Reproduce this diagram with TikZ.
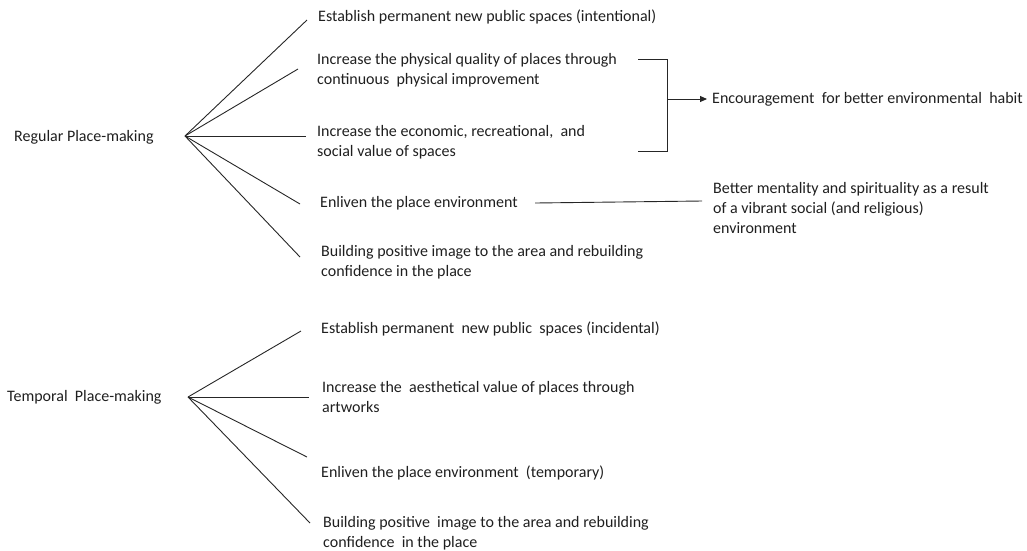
\documentclass[tikz,border=0pt]{standalone}
\usepackage{fontspec}
\setmainfont{Carlito}
\usetikzlibrary{arrows.meta}
\begin{document}
\begin{tikzpicture}[x=1pt,y=-1pt,
  txt/.style={anchor=west,inner sep=0pt,align=left,text=black!88,
    font=\fontsize{16}{20}\selectfont},
  branch/.style={draw=black!85,line width=0.9pt},
  bracketline/.style={draw=black!85,line width=0.9pt}]
\useasboundingbox (0,0) rectangle (1027,550);

% ---- regular place-making ----
\node[txt] (reg) at (14,137) {Regular Place-making};
\coordinate (rhub) at (185,136);

\node[txt] (r1) at (318,17) {Establish permanent new public spaces (intentional)};
\node[txt] (r2) at (317,70) {Increase the physical quality of places through\\continuous\ \ physical improvement};
\node[txt] (r3) at (317,142) {Increase the economic, recreational,\ \ and\\social value of spaces};
\node[txt] (r4) at (320,203) {Enliven the place environment};
\node[txt] (r5) at (321,262) {Building positive image to the area and rebuilding\\confidence in the place};

\coordinate (r1e) at (307,20);
\coordinate (r2e) at (298,69);
\coordinate (r3e) at (306,136);
\coordinate (r4e) at (300,204);
\coordinate (r5e) at (300,257);
\foreach \e in {r1e,r2e,r3e,r4e,r5e} \draw[branch] (rhub) -- (\e);

% bracket joining the two middle outcomes
\coordinate (bt) at (638,59);
\coordinate (btc) at (667,59);
\coordinate (bbc) at (667,151);
\coordinate (bb) at (638,151);
\coordinate (bm) at (667,99);
\coordinate (tip) at (707,99);
\draw[bracketline] (bt) -- (btc) -- (bbc) -- (bb);
\node[txt] (hab) at (712,99) {Encouragement\ \ for better environmental\ \ habit};
\draw[branch,-{Triangle[length=7pt,width=6pt]}] (bm) -- (tip);

% enliven -> mentality
\node[txt] (ment) at (713,208) {Better mentality and spirituality as a result\\of a vibrant social (and religious)\\environment};
\coordinate (ls) at (535,203);
\coordinate (le) at (702,201);
\draw[branch] (ls) -- (le);

% ---- temporal place-making ----
\node[txt] (tmp) at (7,397) {Temporal\ \ Place-making};
\coordinate (thub) at (188,397);

\node[txt] (t1) at (321,329) {Establish permanent\ \ new public\ \ spaces (incidental)};
\node[txt] (t2) at (322,397) {Increase the\ \ aesthetical value of places through\\artworks};
\node[txt] (t3) at (321,473) {Enliven the place environment\ \ (temporary)};
\node[txt] (t4) at (323,533) {Building positive\ \ image to the area and rebuilding\\confidence\ \ in the place};

\coordinate (t1e) at (301,331);
\coordinate (t2e) at (309,397);
\coordinate (t3e) at (307,457);
\coordinate (t4e) at (310,523);
\foreach \e in {t1e,t2e,t3e,t4e} \draw[branch] (thub) -- (\e);
\end{tikzpicture}
\end{document}
